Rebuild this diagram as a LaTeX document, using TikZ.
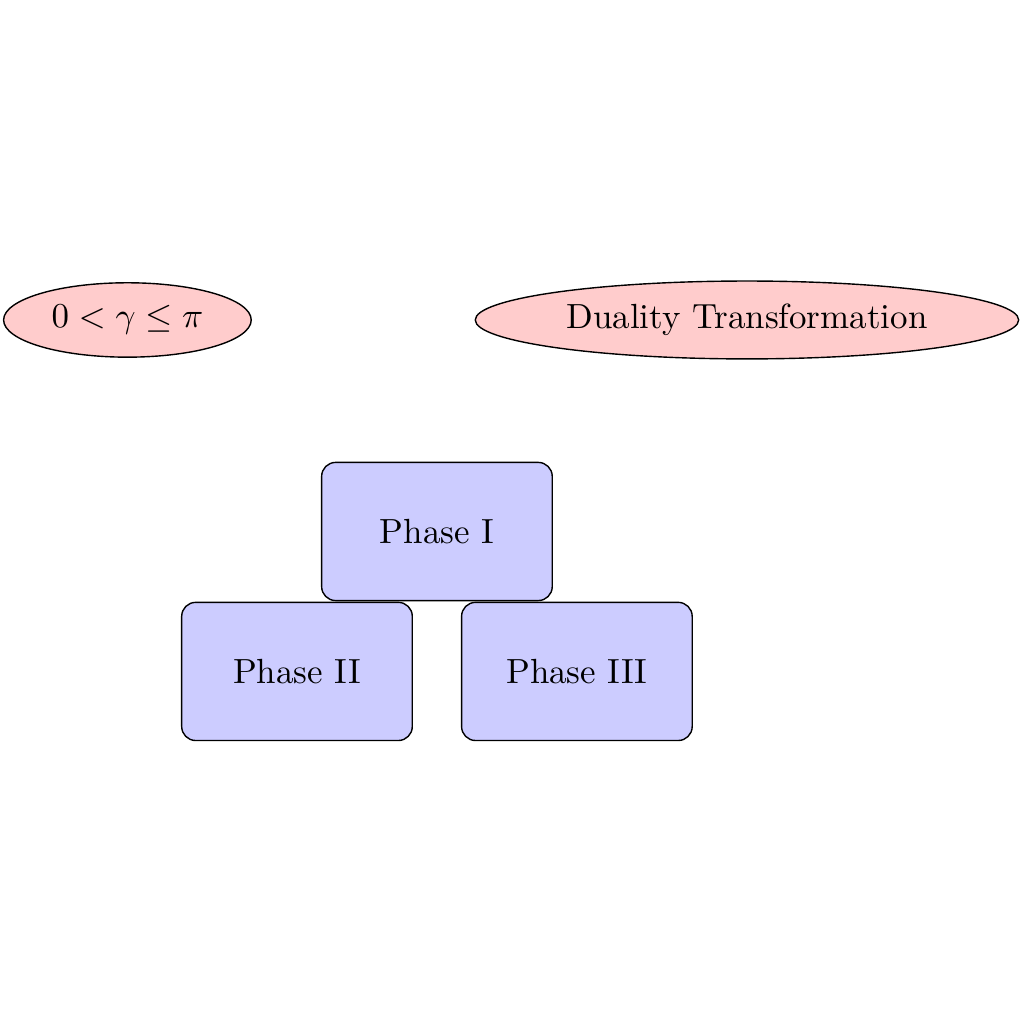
\documentclass[tikz,border=0pt]{standalone}
\usetikzlibrary{shapes.geometric}
\begin{document}
\begin{tikzpicture}[
    phase/.style={draw, rounded corners, fill=blue!20, minimum width=2.32cm, minimum height=1.39cm},
    cond/.style={draw, ellipse, fill=red!20}
  ]
  \useasboundingbox (-4.396,-4.955) rectangle (5.905,5.347);
  % Conditions
  \node[cond] (gamma) at (-3.114,2.128) {$0 < \gamma \leq \pi$};
  \node[cond] (duality) at (3.119,2.128) {Duality Transformation};
  % Phases
  \foreach \x/\y/\n/\t in {0/0/one/I, -1.408/-1.408/two/II, 1.408/-1.408/three/III} {
    \node[phase] (phase\n) at (\x,\y) {Phase \t};
  }
\end{tikzpicture}
\end{document}
